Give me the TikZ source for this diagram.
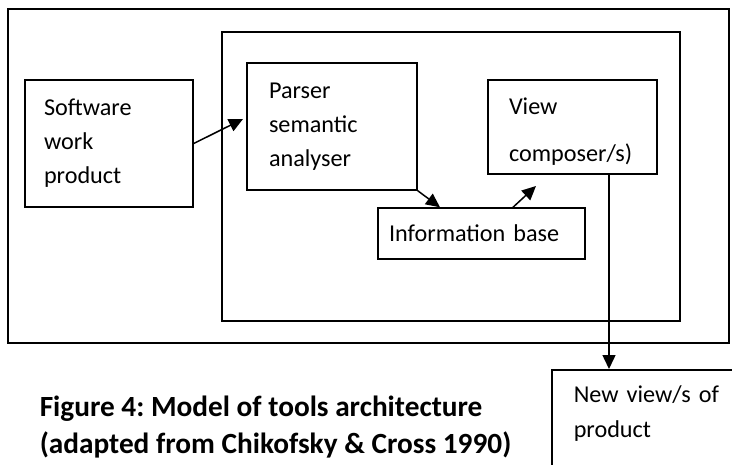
\documentclass[tikz,border=0pt]{standalone}
\usepackage{fontspec}
\setmainfont{Carlito}
\usetikzlibrary{arrows.meta}
\frenchspacing

\begin{document}
\begin{tikzpicture}[x=1pt,y=-1pt,line width=1.5pt,
		>={Triangle[length=14pt,width=13pt]},
		frame/.style={draw,inner sep=0pt},
		box/.style={draw,align=left,inner ysep=0pt,font=\fontsize{24.2}{34}\selectfont}]
	\useasboundingbox (0,0) rectangle (732,464);
	\clip (0,0) rectangle (732,464);
	\node[frame,minimum width=721,minimum height=334] (outer) at (368.5,176) {};
	\node[frame,minimum width=458,minimum height=289] (inner) at (451,176.5) {};
	\node[box,text width=130,inner xsep=19,minimum height=127] (sw) at (109,143.5) {Software\\work\\product};
	\node[box,text width=126,inner xsep=22,minimum height=127] (ps) at (332,126.5) {Parser\\semantic\\analyser};
	\node[box,text width=127,inner xsep=21,minimum height=94] (vc) at (572.5,127) {\rule{0pt}{25pt}View\\[13pt]composer/s)};
	\node[box,text width=185,inner xsep=11,minimum height=51] (ib) at (481.5,233.5) {Information base};
	\node[box,text width=156,inner xsep=22,inner ysep=16,text depth=60pt,anchor=north west,
		font=\fontsize{24.2}{35}\selectfont] (nv) at (551,369) {New view/s of\\product};
	\node[anchor=west,align=left,inner sep=0pt,font=\bfseries\fontsize{29.3}{37}\selectfont] (cap) at (39,427.5)
		{Figure 4: Model of tools architecture\\(adapted from Chikofsky \& Cross 1990)};
	\coordinate (swin) at (243,119);
	\coordinate (vcin) at (536,186);
	\coordinate (vd) at ([xshift=36.5]vc.south);
	\draw[->] (sw.east) to (swin);
	\draw[->] (ps.south east) to ([xshift=-41.5]ib.north);
	\draw[->] ([xshift=31.5]ib.north) to (vcin);
	\draw[->] (vd) to (vd |- nv.north);
\end{tikzpicture}
\end{document}
